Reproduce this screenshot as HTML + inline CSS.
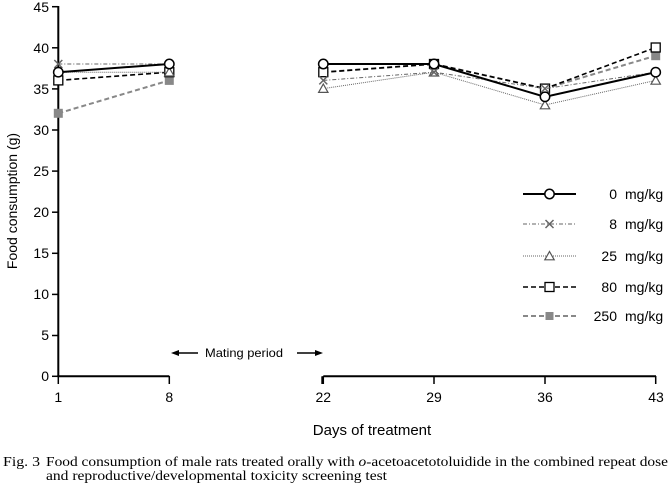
<!DOCTYPE html>
<html><head><meta charset="utf-8"><style>
html,body{margin:0;padding:0;background:#fff;}
svg{display:block;}
text{font-family:"Liberation Sans",sans-serif;}
.serif{font-family:"Liberation Serif",serif;}
</style></head><body>
<svg width="670" height="488" viewBox="0 0 670 488" xmlns="http://www.w3.org/2000/svg">
<!-- axes -->
<g stroke="#000" stroke-width="2" fill="none">
<line x1="58.3" y1="6" x2="58.3" y2="377"/>
<line x1="57.3" y1="376.3" x2="169.3" y2="376.3"/>
<line x1="323.3" y1="376.3" x2="656" y2="376.3"/>
<line x1="322.3" y1="376.3" x2="322.3" y2="384"/>
</g>
<g stroke="#000" stroke-width="1.5">
<line x1="52" y1="6.7" x2="58" y2="6.7"/>
<line x1="52" y1="47.8" x2="58" y2="47.8"/>
<line x1="52" y1="88.9" x2="58" y2="88.9"/>
<line x1="52" y1="130" x2="58" y2="130"/>
<line x1="52" y1="171.1" x2="58" y2="171.1"/>
<line x1="52" y1="212.2" x2="58" y2="212.2"/>
<line x1="52" y1="253.3" x2="58" y2="253.3"/>
<line x1="52" y1="294.4" x2="58" y2="294.4"/>
<line x1="52" y1="335.5" x2="58" y2="335.5"/>
<line x1="52" y1="376.3" x2="58" y2="376.3"/>
<line x1="58.3" y1="376" x2="58.3" y2="384"/>
<line x1="169.3" y1="376" x2="169.3" y2="384"/>
<line x1="323.3" y1="376" x2="323.3" y2="384"/>
<line x1="434" y1="376" x2="434" y2="384"/>
<line x1="545" y1="376" x2="545" y2="384"/>
<line x1="655.7" y1="376" x2="655.7" y2="384"/>
</g>
<g font-size="14" text-anchor="end" fill="#000">
<text x="49" y="12">45</text>
<text x="49" y="53">40</text>
<text x="49" y="94">35</text>
<text x="49" y="135">30</text>
<text x="49" y="176">25</text>
<text x="49" y="217">20</text>
<text x="49" y="258">15</text>
<text x="49" y="299">10</text>
<text x="49" y="340">5</text>
<text x="49" y="381">0</text>
</g>
<g font-size="14" text-anchor="middle" fill="#000">
<text x="58.3" y="402">1</text>
<text x="169.3" y="402">8</text>
<text x="323.3" y="402">22</text>
<text x="434" y="402">29</text>
<text x="545" y="402">36</text>
<text x="656" y="402">43</text>
</g>
<text x="372" y="435" font-size="15" text-anchor="middle">Days of treatment</text>
<text transform="translate(17,201) rotate(-90)" font-size="14" text-anchor="middle">Food consumption (g)</text>
<!-- mating period -->
<text x="244" y="357" font-size="12" text-anchor="middle" textLength="78" lengthAdjust="spacingAndGlyphs">Mating period</text>
<g stroke="#000" stroke-width="1.5" fill="#000">
<line x1="176" y1="353" x2="198" y2="353"/>
<polygon points="171,353 179,350 179,356" stroke="none"/>
<line x1="297" y1="353" x2="318" y2="353"/>
<polygon points="323,353 315,350 315,356" stroke="none"/>
</g>
<!-- 250 mg/kg -->
<g stroke="#888" stroke-width="2" stroke-dasharray="5,3" fill="none">
<polyline points="58.3,113.3 169.3,80.4"/>
<polyline points="323.3,72.2 434,64.0 545,88.6 655.7,55.7"/>
</g>
<g fill="#888">
<rect x="53.8" y="108.8" width="9" height="9"/>
<rect x="164.8" y="75.9" width="9" height="9"/>
<rect x="318.8" y="67.7" width="9" height="9"/>
<rect x="429.5" y="59.5" width="9" height="9"/>
<rect x="540.5" y="84.1" width="9" height="9"/>
<rect x="651.2" y="51.2" width="9" height="9"/>
</g>
<!-- 80 mg/kg -->
<g stroke="#000" stroke-width="1.6" stroke-dasharray="5,3" fill="none">
<polyline points="58.3,80.4 169.3,72.2"/>
<polyline points="323.3,72.2 434,64.0 545,88.6 655.7,47.5"/>
</g>
<g fill="#fff" stroke="#000" stroke-width="1.3">
<rect x="53.8" y="75.9" width="9" height="9"/>
<rect x="164.8" y="67.7" width="9" height="9"/>
<rect x="318.8" y="67.7" width="9" height="9"/>
<rect x="429.5" y="59.5" width="9" height="9"/>
<rect x="540.5" y="84.1" width="9" height="9"/>
<rect x="651.2" y="43" width="9" height="9"/>
</g>
<!-- 25 mg/kg -->
<g stroke="#666" stroke-width="1" stroke-dasharray="1,1" fill="none">
<polyline points="58.3,72.2 169.3,72.2"/>
<polyline points="323.3,88.6 434,72.2 545,105 655.7,80.4"/>
</g>
<g fill="#fff" stroke="#555" stroke-width="1.2">
<polygon points="169.3,67.7 174,76 164.6,76"/>
<polygon points="323.3,84 328,92.4 318.6,92.4"/>
<polygon points="434,67.7 438.7,76 429.3,76"/>
<polygon points="545,100.5 549.7,108.8 540.3,108.8"/>
<polygon points="655.7,75.9 660.4,84.2 651,84.2"/>
</g>
<!-- 8 mg/kg -->
<g stroke="#666" stroke-width="1" stroke-dasharray="4,2,1,2" fill="none">
<polyline points="58.3,64.0 169.3,64.0"/>
<polyline points="323.3,80.4 434,72.2 545,88.6 655.7,72.2"/>
</g>
<g stroke="#666" stroke-width="1.5" fill="none">
<path d="M54.3,60 L62.3,68 M62.3,60 L54.3,68"/>
<path d="M319.3,76.4 L327.3,84.4 M327.3,76.4 L319.3,84.4"/>
<path d="M430,68.2 L438,76.2 M438,68.2 L430,76.2"/>
<path d="M541,84.6 L549,92.6 M549,84.6 L541,92.6"/>
</g>
<!-- 0 mg/kg -->
<g stroke="#000" stroke-width="2" fill="none">
<polyline points="58.3,72.2 169.3,64.0"/>
<polyline points="323.3,64.0 434,64.0 545,96.8 655.7,72.2"/>
</g>
<g fill="#fff" stroke="#000" stroke-width="1.5">
<circle cx="58.3" cy="72.2" r="4.7"/>
<circle cx="169.3" cy="64.0" r="4.7"/>
<circle cx="323.3" cy="64.0" r="4.7"/>
<circle cx="434" cy="64.0" r="4.7"/>
<circle cx="545" cy="96.8" r="4.7"/>
<circle cx="655.7" cy="72.2" r="4.7"/>
</g>
<!-- legend -->
<g fill="none">
<line x1="523" y1="194" x2="576" y2="194" stroke="#000" stroke-width="2"/>
<circle cx="549.5" cy="194" r="4.7" fill="#fff" stroke="#000" stroke-width="1.5"/>
<line x1="523" y1="224" x2="576" y2="224" stroke="#666" stroke-width="1" stroke-dasharray="4,2,1,2"/>
<path d="M545.5,220 L553.5,228 M553.5,220 L545.5,228" stroke="#666" stroke-width="1.5"/>
<line x1="523" y1="256" x2="576" y2="256" stroke="#666" stroke-width="1" stroke-dasharray="1,1"/>
<polygon points="549.5,251.5 554.2,259.8 544.8,259.8" fill="#fff" stroke="#555" stroke-width="1.2"/>
<line x1="523" y1="287" x2="576" y2="287" stroke="#000" stroke-width="1.6" stroke-dasharray="5,3"/>
<rect x="545" y="282.5" width="9" height="9" fill="#fff" stroke="#000" stroke-width="1.3"/>
<line x1="523" y1="316" x2="576" y2="316" stroke="#888" stroke-width="2" stroke-dasharray="5,3"/>
<rect x="545" y="311.5" width="9" height="9" fill="#888" stroke="#fff" stroke-width="1"/>
</g>
<g font-size="14" fill="#000">
<g text-anchor="end">
<text x="617" y="199">0</text>
<text x="617" y="229">8</text>
<text x="617" y="261">25</text>
<text x="617" y="292">80</text>
<text x="617" y="321">250</text>
</g>
<text x="625" y="199">mg/kg</text>
<text x="625" y="229">mg/kg</text>
<text x="625" y="261">mg/kg</text>
<text x="625" y="292">mg/kg</text>
<text x="625" y="321">mg/kg</text>
</g>
<!-- caption -->
<g class="serif" font-size="14" fill="#000">
<text x="3" y="466" class="serif" textLength="37" lengthAdjust="spacingAndGlyphs">Fig. 3</text>
<text x="46" y="466" class="serif" textLength="622" lengthAdjust="spacingAndGlyphs">Food consumption of male rats treated orally with <tspan font-style="italic">o</tspan>-acetoacetotoluidide in the combined repeat dose</text>
<text x="46" y="480" class="serif" textLength="341" lengthAdjust="spacingAndGlyphs">and reproductive/developmental toxicity screening test</text>
</g>
</svg>
</body></html>
